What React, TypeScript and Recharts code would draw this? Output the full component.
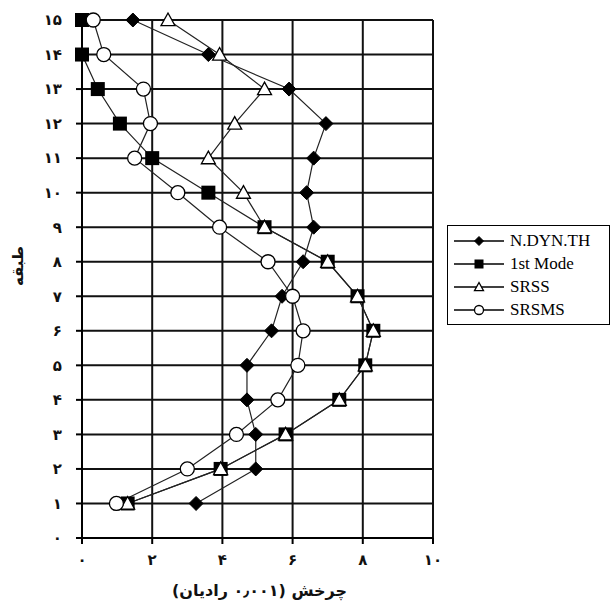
import React from 'react';
import { LineChart, Line, XAxis, YAxis, CartesianGrid, Legend, Label } from 'recharts';

const floors = [1, 2, 3, 4, 5, 6, 7, 8, 9, 10, 11, 12, 13, 14, 15];
const ndynth = [3.25, 4.95, 4.95, 4.7, 4.7, 5.4, 5.7, 6.3, 6.6, 6.4, 6.6, 6.95, 5.9, 3.6, 1.45];
const firstMode = [1.3, 3.95, 5.8, 7.33, 8.07, 8.3, 7.85, 7.0, 5.2, 3.6, 2.0, 1.08, 0.45, 0, 0];
const srss = [1.3, 3.95, 5.8, 7.33, 8.07, 8.3, 7.85, 7.0, 5.2, 4.6, 3.6, 4.35, 5.2, 3.92, 2.45];
const srsms = [0.98, 3.0, 4.4, 5.58, 6.15, 6.3, 6.0, 5.3, 3.92, 2.73, 1.5, 1.95, 1.75, 0.62, 0.32];

const xTicks = [0, 2, 4, 6, 8, 10];
const yTicks = [0, 1, 2, 3, 4, 5, 6, 7, 8, 9, 10, 11, 12, 13, 14, 15];

const seriesNames = ['N.DYN.TH', '1st Mode', 'SRSS', 'SRSMS'];
const xTitle = 'چرخش (۰٫۰۰۱ رادیان)';
const yTitle = 'طبقه';

const data = floors.map((f, i) => ({
  floor: f,
  ndynth: ndynth[i],
  firstMode: firstMode[i],
  srss: srss[i],
  srsms: srsms[i],
}));

const faDigits = '۰۱۲۳۴۵۶۷۸۹';
const toFa = (n: number) => String(n).replace(/[0-9]/g, (d) => faDigits[Number(d)]);

const Diamond = ({ cx, cy, s = 7 }: any) => (
  <path d={`M${cx},${cy - s}L${cx + s},${cy}L${cx},${cy + s}L${cx - s},${cy}Z`} fill="#000" stroke="#000" />
);
const Square = ({ cx, cy, s = 7 }: any) => (
  <rect x={cx - s} y={cy - s} width={s * 2} height={s * 2} fill="#000" />
);
const Triangle = ({ cx, cy, s = 7 }: any) => (
  <path d={`M${cx},${cy - s}L${cx + s},${cy + s * 0.8}L${cx - s},${cy + s * 0.8}Z`} fill="#fff" stroke="#000" strokeWidth={1.3} />
);
const Circle = ({ cx, cy, s = 7 }: any) => (
  <circle cx={cx} cy={cy} r={s} fill="#fff" stroke="#000" strokeWidth={1.3} />
);

const markers = [Diamond, Square, Triangle, Circle];

const dotFor = (M: any, name: string) => (p: any) => <M key={`${name}-${p.index}`} cx={p.cx} cy={p.cy} />;

const LegendBox = () => (
  <div style={{ fontFamily: '"Liberation Serif", serif', fontSize: 17, lineHeight: '23px', padding: '3px 6px', background: '#fff' }}>
    {seriesNames.map((n, i) => {
      const M = markers[i];
      return (
        <div key={n} style={{ display: 'flex', alignItems: 'center' }}>
          <svg width={52} height={16} style={{ marginRight: 4 }}>
            <line x1={0} y1={8} x2={50} y2={8} stroke="#000" strokeWidth={1.5} />
            <M cx={25} cy={8} s={4.5} />
          </svg>
          <span>{n}</span>
        </div>
      );
    })}
  </div>
);

export default function App() {
  const tickStyle = { fontFamily: '"DejaVu Sans", sans-serif', fontWeight: 700, fontSize: 15, fill: '#111' };
  return (
    <div style={{ position: 'absolute', left: 0, top: 0, width: 616, height: 608, background: '#fff' }}>
      <LineChart width={616} height={608} layout="vertical" data={data} margin={{ top: 20, right: 183, left: 0, bottom: 0 }}>
        <CartesianGrid stroke="#111" strokeWidth={2} />
        <XAxis
          type="number"
          domain={[0, 10]}
          ticks={xTicks}
          tickFormatter={toFa}
          height={70}
          tick={tickStyle}
          tickSize={6}
          tickMargin={10}
          axisLine={{ stroke: '#000', strokeWidth: 2 }}
          tickLine={{ stroke: '#000', strokeWidth: 2 }}
        >
          <Label
            content={(props: any) => {
              const vb = props.viewBox || { x: 82, y: 538, width: 351, height: 70 };
              const x = vb.x + vb.width / 2 + 2;
              const y = 596;
              return (
                <text
                  x={x}
                  y={y}
                  textAnchor="middle"
                  direction="rtl"
                  style={{ fontFamily: '"DejaVu Sans", sans-serif', fontWeight: 700, fontSize: 16, fill: '#111' }}
                >
                  {xTitle}
                </text>
              );
            }}
          />
        </XAxis>
        <YAxis
          type="number"
          dataKey="floor"
          domain={[0, 15]}
          ticks={yTicks}
          interval={0}
          reversed
          tickFormatter={toFa}
          width={82}
          tick={tickStyle}
          tickSize={6}
          tickMargin={14}
          axisLine={{ stroke: '#000', strokeWidth: 2 }}
          tickLine={{ stroke: '#000', strokeWidth: 2 }}
        >
          <Label
            content={() => {
              const x = 18;
              const y = 266;
              return (
                <text
                  x={x}
                  y={y}
                  transform={`rotate(-90 ${x} ${y})`}
                  textAnchor="middle"
                  dominantBaseline="middle"
                  style={{ fontFamily: '"DejaVu Sans", sans-serif', fontWeight: 700, fontSize: 15, fill: '#111' }}
                >
                  {yTitle}
                </text>
              );
            }}
          />
        </YAxis>
        <Legend
          layout="horizontal"
          align="center"
          verticalAlign="middle"
          content={<LegendBox />}
          wrapperStyle={{ position: 'absolute', left: 447, top: 225, width: 163, border: '1.5px solid #000', boxSizing: 'border-box' }}
        />
        <Line dataKey="ndynth" name={seriesNames[0]} stroke="#222" strokeWidth={1.2} dot={dotFor(Diamond, 'a')} activeDot={false} isAnimationActive={false} />
        <Line dataKey="firstMode" name={seriesNames[1]} stroke="#222" strokeWidth={1.2} dot={dotFor(Square, 'b')} activeDot={false} isAnimationActive={false} />
        <Line dataKey="srss" name={seriesNames[2]} stroke="#222" strokeWidth={1.2} dot={dotFor(Triangle, 'c')} activeDot={false} isAnimationActive={false} />
        <Line dataKey="srsms" name={seriesNames[3]} stroke="#222" strokeWidth={1.2} dot={dotFor(Circle, 'd')} activeDot={false} isAnimationActive={false} />
      </LineChart>
    </div>
  );
}
